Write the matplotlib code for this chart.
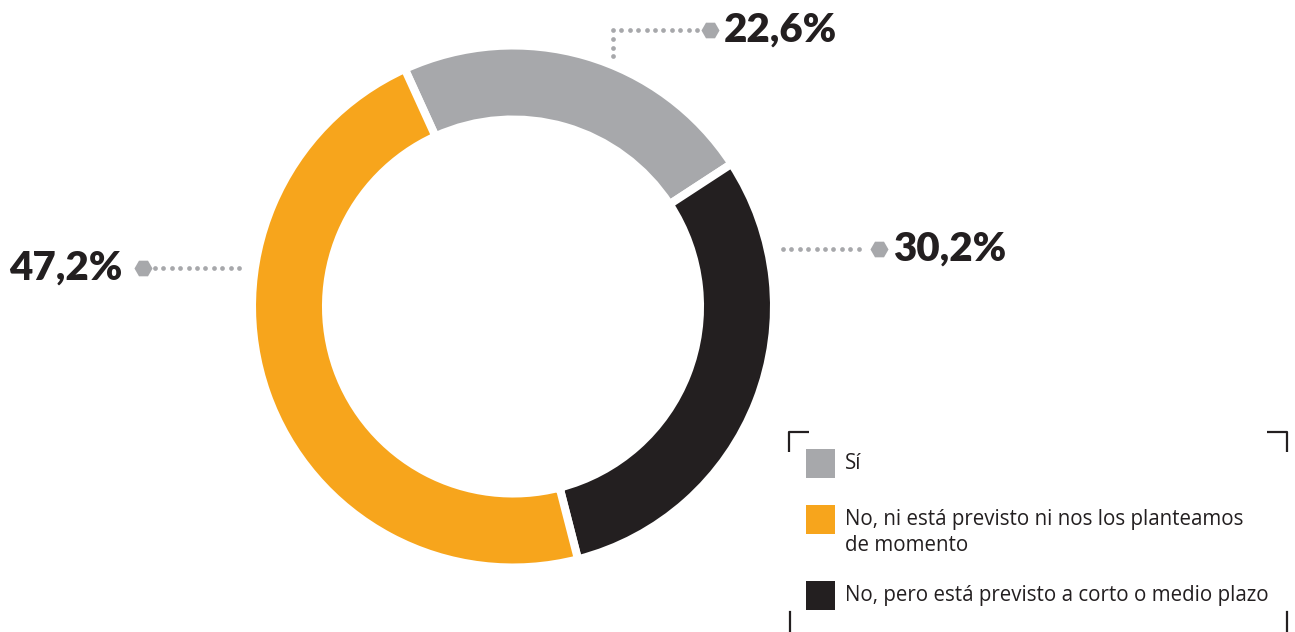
import numpy as np
import matplotlib
matplotlib.use("Agg")
import matplotlib.pyplot as plt

# data
labels = ["Sí", "No, pero está previsto a corto o medio plazo",
          "No, ni está previsto ni nos los planteamos\nde momento"]
values = [22.6, 30.2, 47.2]
value_text = ["22,6%", "30,2%", "47,2%"]
colors = ["#A7A8AB", "#231F20", "#F7A51C"]

legend_labels = ["Sí", "No, ni está previsto ni nos los planteamos\nde momento",
                 "No, pero está previsto a corto o medio plazo"]
legend_colors = ["#A7A8AB", "#F7A51C", "#231F20"]

W, H = 1295, 632
fig = plt.figure(figsize=(W / 100, H / 100), dpi=100)
ax = fig.add_axes([0, 0, 1, 1])

cx, cy = 513, H - 306.5
ax.pie(values, colors=colors, startangle=114.5, counterclock=False,
       center=(cx, cy), radius=261,
       wedgeprops=dict(width=74, edgecolor="white", linewidth=5.8))
ax.set_xlim(0, W)
ax.set_ylim(0, H)
ax.set_aspect("equal")
ax.axis("off")

dot_col = "#A7A8AB"


def dots(x0, x1, y):
    xs = np.arange(x0, x1 + 0.1, 8.4)
    ax.plot(xs, np.full_like(xs, y), "o", ms=3.4, color=dot_col, mec="none")


def vdots(x, y0, y1):
    ys = np.arange(y0, y1 + 0.1, 8.4)
    ax.plot(np.full_like(ys, x), ys, "o", ms=3.4, color=dot_col, mec="none")


lab_font = dict(fontsize=29, fontweight="heavy", family="Lato", color="#231F20",
                va="center")

# 22,6%
y = H - 30
dots(613, 700, y)
vdots(613, H - 56, y - 8)
ax.plot(710, y, "H", ms=13, color=dot_col, mec="none")
ax.text(724, y, value_text[0], ha="left", **lab_font)

# 30,2%
y = H - 249
dots(783, 866, y)
ax.plot(879, y, "H", ms=13, color=dot_col, mec="none")
ax.text(893, y, value_text[1], ha="left", **lab_font)

# 47,2%
y = H - 268
dots(155, 240, y)
ax.plot(143, y, "H", ms=13, color=dot_col, mec="none")
ax.text(122, y, value_text[2], ha="right", **lab_font)

# legend frame corners
lc = "#231F20"
lw = 1.6
ax.plot([789, 789, 809], [H - 452, H - 432, H - 432], color=lc, lw=lw, solid_capstyle="butt")
ax.plot([1267, 1287, 1287], [H - 432, H - 432, H - 452], color=lc, lw=lw, solid_capstyle="butt")
ax.plot([790, 790], [H - 612, 0], color=lc, lw=lw)
ax.plot([1287, 1287], [H - 612, 0], color=lc, lw=lw)

sq_y = [449, 505, 581]
for c, t, yy in zip(legend_colors, legend_labels, sq_y):
    ax.add_patch(plt.Rectangle((806, H - yy - 29), 29, 29, color=c, lw=0))
    lines = t.split("\n")
    for i, ln in enumerate(lines):
        ax.text(845, H - yy - 14.5 - 26 * i, ln,
                fontsize=14.8, family="Open Sans", color="#231F20",
                va="center", ha="left")

fig.savefig("out.png", dpi=100)
